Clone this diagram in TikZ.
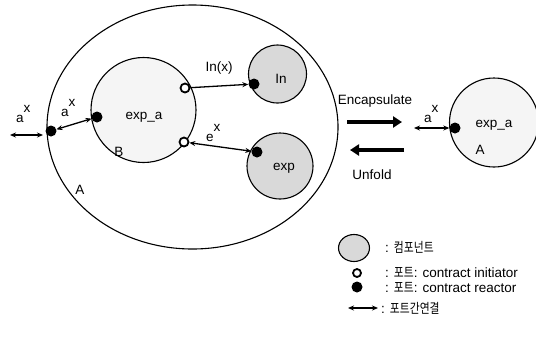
\documentclass[tikz,border=0pt]{standalone}
\usepackage{fontspec}
\setmainfont{Liberation Sans}
\newfontfamily\kr[FakeStretch=0.8]{Noto Sans CJK KR}
\usetikzlibrary{shapes.geometric,arrows.meta}
\begin{document}
\begin{tikzpicture}[x=1pt,y=-1pt,
  lbl/.style={inner sep=0pt,font=\fontsize{13.5}{16}\selectfont},
  comp/.style={circle,draw,line width=1.1pt,fill=black!15,inner sep=0pt},
  plain/.style={circle,draw,line width=1.1pt,fill=black!4,inner sep=0pt},
  rport/.style={circle,fill=black,minimum size=11pt,inner sep=0pt},
  iport/.style={circle,draw,line width=1.8pt,fill=white,minimum size=9pt,inner sep=0pt},
  conn/.style={line width=1.3pt,{Stealth[length=6pt,width=5pt]}-{Stealth[length=6pt,width=5pt]}},
  connr/.style={line width=1.3pt,-{Stealth[length=6pt,width=5pt]}},
  fat/.style={line width=4pt,-{Triangle[length=9pt,width=11pt]}}]
\useasboundingbox (0,0) rectangle (536,349);
% outer component A
\node[ellipse,draw,line width=1.1pt,minimum width=291pt,minimum height=244pt,inner sep=0pt] (A) at (192.5,127) {};
\node[lbl] (Alab) at (80,190) {A};
% inner component B
\node[plain,minimum size=105pt] (B) at (143.5,110) {};
\node[lbl] (Blab) at (119,152) {B};
\node[lbl] (Btxt) at (144,117) {exp\_a};
% In and exp
\node[comp,minimum size=58pt] (In) at (277.5,74) {};
\node[lbl] (Intxt) at (281,79) {In};
\node[comp,minimum size=66pt] (Ex) at (280,166) {};
\node[lbl] (Extxt) at (284,168) {exp};
% ports
\node[rport] (pA) at (51,131) {};
\node[rport] (pB) at (97,117) {};
\node[iport] (o1) at (185,88) {};
\node[iport] (o2) at (184,142) {};
\node[rport] (pIn) at (254,84) {};
\node[rport] (pEx) at (257,152) {};
% connectors
\coordinate (l1) at (10,135);
\coordinate (l2) at (43,135);
\draw[conn] (l1) -- (l2);
\draw[conn] (pA) -- (pB);
\draw[connr] (o1) -- (pIn);
\draw[conn] (o2) -- (pEx);
\node[lbl,anchor=base west] (ax1) at (16,122) {a\raisebox{10pt}{x}};
\node[lbl,anchor=base west] (ax2) at (61,116) {a\raisebox{10pt}{x}};
\node[lbl] (inx) at (219,68) {In(x)};
\node[lbl,anchor=base west] (ex) at (206,141) {e\raisebox{10pt}{x}};
% encapsulate / unfold
\coordinate (e1) at (347,122);
\coordinate (e2) at (402,122);
\coordinate (u1) at (404,150);
\coordinate (u2) at (350,150);
\draw[fat] (e1) -- (e2);
\draw[fat] (u1) -- (u2);
\node[lbl] (enc) at (375,101) {Encapsulate};
\node[lbl] (unf) at (372,175) {Unfold};
% right component A
\node[plain,minimum size=89pt] (A2) at (494,122.5) {};
\node[rport] (pA2) at (455,128) {};
\coordinate (r1) at (414,128);
\draw[conn] (r1) -- (pA2);
\node[lbl,anchor=base west] (ax3) at (424,122) {a\raisebox{10pt}{x}};
\node[lbl] (A2txt) at (494,125) {exp\_a};
\node[lbl] (A2lab) at (480,150) {A};
% legend
\node[ellipse,draw,line width=1.1pt,fill=black!15,minimum width=31pt,minimum height=27pt,inner sep=0pt] (lg1) at (354,248) {};
\node[lbl,anchor=west] (lt1) at (385,247) {: {\kr 컴포넌트}};
\node[iport,minimum size=8pt] (lg2) at (357,273) {};
\node[lbl,anchor=west] (lt2) at (385,273) {: {\kr 포트}: contract initiator};
\node[rport] (lg3) at (357,287) {};
\node[lbl,anchor=west] (lt3) at (385,288) {: {\kr 포트}: contract reactor};
\coordinate (g1) at (348,308);
\coordinate (g2) at (378,308);
\draw[conn,line width=1.1pt] (g1) -- (g2);
\node[lbl,anchor=west] (lt4) at (381,308) {: {\kr 포트간연결}};
\end{tikzpicture}
\end{document}
